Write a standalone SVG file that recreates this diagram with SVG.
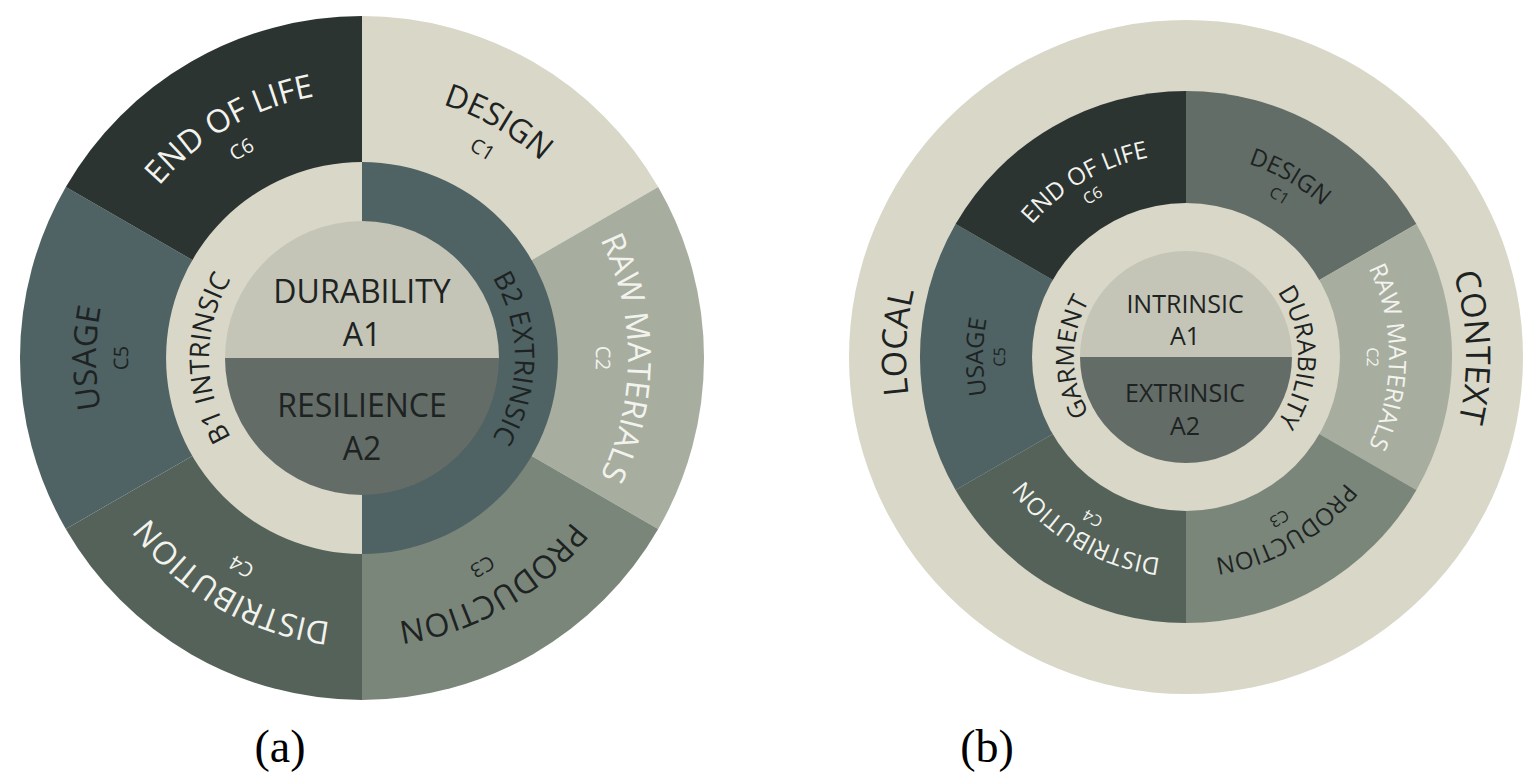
<svg xmlns="http://www.w3.org/2000/svg" width="1528" height="781" viewBox="0 0 1528 781">
<style>
  text { font-family: "Open Sans", "Noto Sans", "DejaVu Sans", sans-serif; text-anchor: middle; }
  .dk { fill: #1d2322; }
  .lt { fill: #f3f3ee; }
  .ma { font-size: 32px; }
  .ca { font-size: 20px; }
  .ba { font-size: 27px; }
  .mb { font-size: 24px; }
  .cb { font-size: 16px; }
  .ob { font-size: 34px; }
  .gb { font-size: 25px; }
  .cap { font-family: "Liberation Serif", "Times New Roman", serif; font-size: 46px; fill: #000; }
  .beige { fill: #d9d7c7; }
  .raw { fill: #a7ad9f; }
  .prod { fill: #7b867b; }
  .dist { fill: #546259; }
  .usage { fill: #4f6264; }
  .eol { fill: #2c3432; }
  .dsgb { fill: #636d68; }
  .coretop { fill: #c4c5b6; }
  .corebot { fill: #646c67; }
</style>
<defs>
  <path id="ra" d="M -261.96 -46.19 A 266 266 0 0 1 261.96 -46.19"/>
  <path id="rca" d="M -230.45 -40.63 A 234 234 0 0 1 230.45 -40.63"/>
  <path id="rba" d="M -150.68 -26.57 A 153 153 0 0 1 150.68 -26.57"/>
  <path id="rb" d="M -199.92 -35.25 A 203 203 0 0 1 199.92 -35.25"/>
  <path id="rcb" d="M -178.25 -31.43 A 181 181 0 0 1 178.25 -31.43"/>
  <path id="rob" d="M -275.75 -48.62 A 280 280 0 0 1 275.75 -48.62"/>
  <path id="rgb" d="M -110.30 -19.45 A 112 112 0 0 1 110.30 -19.45"/>
</defs>

<g id="connectors"></g>

<!-- ===== Diagram (a) ===== -->
<g id="a-design">
  <path class="beige" d="M362,358 L362,16 A342,342 0 0 1 658.2,187 Z"/>
  <text class="ma dk" transform="translate(362 358) rotate(30)"><textPath href="#ra" startOffset="50%">DESIGN</textPath></text>
  <text class="ca dk" transform="translate(362 358) rotate(30)"><textPath href="#rca" startOffset="50%">C1</textPath></text>
</g>
<g id="a-raw-materials">
  <path class="raw" d="M362,358 L658.2,187 A342,342 0 0 1 658.2,529 Z"/>
  <text class="ma lt" transform="translate(362 358) rotate(90)"><textPath href="#ra" startOffset="50%">RAW MATERIALS</textPath></text>
  <text class="ca lt" transform="translate(362 358) rotate(90)"><textPath href="#rca" startOffset="50%">C2</textPath></text>
</g>
<g id="a-production">
  <path class="prod" d="M362,358 L658.2,529 A342,342 0 0 1 362,700 Z"/>
  <text class="ma dk" transform="translate(362 358) rotate(150)"><textPath href="#ra" startOffset="50%">PRODUCTION</textPath></text>
  <text class="ca dk" transform="translate(362 358) rotate(150)"><textPath href="#rca" startOffset="50%">C3</textPath></text>
</g>
<g id="a-distribution">
  <path class="dist" d="M362,358 L362,700 A342,342 0 0 1 65.8,529 Z"/>
  <text class="ma lt" transform="translate(362 358) rotate(210)"><textPath href="#ra" startOffset="50%">DISTRIBUTION</textPath></text>
  <text class="ca lt" transform="translate(362 358) rotate(210)"><textPath href="#rca" startOffset="50%">C4</textPath></text>
</g>
<g id="a-usage">
  <path class="usage" d="M362,358 L65.8,529 A342,342 0 0 1 65.8,187 Z"/>
  <text class="ma dk" transform="translate(362 358) rotate(-90)"><textPath href="#ra" startOffset="50%">USAGE</textPath></text>
  <text class="ca dk" transform="translate(362 358) rotate(-90)"><textPath href="#rca" startOffset="50%">C5</textPath></text>
</g>
<g id="a-end-of-life">
  <path class="eol" d="M362,358 L65.8,187 A342,342 0 0 1 362,16 Z"/>
  <text class="ma lt" transform="translate(362 358) rotate(-30)"><textPath href="#ra" startOffset="50%">END OF LIFE</textPath></text>
  <text class="ca lt" transform="translate(362 358) rotate(-30)"><textPath href="#rca" startOffset="50%">C6</textPath></text>
</g>
<g id="a-b1-intrinsic">
  <path class="beige" d="M362,554 A196,196 0 0 1 362,162 Z"/>
  <text class="ba dk" transform="translate(362 358) rotate(-90)"><textPath href="#rba" startOffset="50%">B1 INTRINSIC</textPath></text>
</g>
<g id="a-b2-extrinsic">
  <path class="usage" d="M362,162 A196,196 0 0 1 362,554 Z"/>
  <text class="ba dk" transform="translate(362 358) rotate(90)"><textPath href="#rba" startOffset="50%">B2 EXTRINSIC</textPath></text>
</g>
<g id="a-a1-durability">
  <path class="coretop" d="M225,358 A137,137 0 0 1 499,358 Z"/>
  <text class="ma dk" x="362" y="303">DURABILITY</text>
  <text class="ma dk" x="362" y="346">A1</text>
</g>
<g id="a-a2-resilience">
  <path class="corebot" d="M499,358 A137,137 0 0 1 225,358 Z"/>
  <text class="ma dk" x="362" y="417">RESILIENCE</text>
  <text class="ma dk" x="362" y="460">A2</text>
</g>
<text class="cap" x="280" y="762">(a)</text>

<!-- ===== Diagram (b) ===== -->
<g id="b-context">
  <circle class="beige" cx="1186" cy="357" r="337"/>
  <text class="ob dk" transform="translate(1186 357) rotate(-87)"><textPath href="#rob" startOffset="50%">LOCAL</textPath></text>
  <text class="ob dk" transform="translate(1186 357) rotate(88)"><textPath href="#rob" startOffset="50%">CONTEXT</textPath></text>
</g>
<g id="b-design">
  <path class="dsgb" d="M1186,357 L1186,91 A266,266 0 0 1 1416.4,224 Z"/>
  <text class="mb dk" transform="translate(1186 357) rotate(30)"><textPath href="#rb" startOffset="50%">DESIGN</textPath></text>
  <text class="cb dk" transform="translate(1186 357) rotate(30)"><textPath href="#rcb" startOffset="50%">C1</textPath></text>
</g>
<g id="b-raw-materials">
  <path class="raw" d="M1186,357 L1416.4,224 A266,266 0 0 1 1416.4,490 Z"/>
  <text class="mb lt" transform="translate(1186 357) rotate(90)"><textPath href="#rb" startOffset="50%">RAW MATERIALS</textPath></text>
  <text class="cb lt" transform="translate(1186 357) rotate(90)"><textPath href="#rcb" startOffset="50%">C2</textPath></text>
</g>
<g id="b-production">
  <path class="prod" d="M1186,357 L1416.4,490 A266,266 0 0 1 1186,623 Z"/>
  <text class="mb dk" transform="translate(1186 357) rotate(150)"><textPath href="#rb" startOffset="50%">PRODUCTION</textPath></text>
  <text class="cb dk" transform="translate(1186 357) rotate(150)"><textPath href="#rcb" startOffset="50%">C3</textPath></text>
</g>
<g id="b-distribution">
  <path class="dist" d="M1186,357 L1186,623 A266,266 0 0 1 955.6,490 Z"/>
  <text class="mb lt" transform="translate(1186 357) rotate(210)"><textPath href="#rb" startOffset="50%">DISTRIBUTION</textPath></text>
  <text class="cb lt" transform="translate(1186 357) rotate(210)"><textPath href="#rcb" startOffset="50%">C4</textPath></text>
</g>
<g id="b-usage">
  <path class="usage" d="M1186,357 L955.6,490 A266,266 0 0 1 955.6,224 Z"/>
  <text class="mb dk" transform="translate(1186 357) rotate(-90)"><textPath href="#rb" startOffset="50%">USAGE</textPath></text>
  <text class="cb dk" transform="translate(1186 357) rotate(-90)"><textPath href="#rcb" startOffset="50%">C5</textPath></text>
</g>
<g id="b-end-of-life">
  <path class="eol" d="M1186,357 L955.6,224 A266,266 0 0 1 1186,91 Z"/>
  <text class="mb lt" transform="translate(1186 357) rotate(-30)"><textPath href="#rb" startOffset="50%">END OF LIFE</textPath></text>
  <text class="cb lt" transform="translate(1186 357) rotate(-30)"><textPath href="#rcb" startOffset="50%">C6</textPath></text>
</g>
<g id="b-garment-durability">
  <circle class="beige" cx="1186" cy="357" r="154"/>
  <text class="gb dk" transform="translate(1186 357) rotate(-90)"><textPath href="#rgb" startOffset="50%">GARMENT</textPath></text>
  <text class="gb dk" transform="translate(1186 357) rotate(90)"><textPath href="#rgb" startOffset="50%">DURABILITY</textPath></text>
</g>
<g id="b-a1-intrinsic">
  <path class="coretop" d="M1080,357 A106,106 0 0 1 1292,357 Z"/>
  <text class="gb dk" x="1185" y="313">INTRINSIC</text>
  <text class="gb dk" x="1185" y="345">A1</text>
</g>
<g id="b-a2-extrinsic">
  <path class="corebot" d="M1292,357 A106,106 0 0 1 1080,357 Z"/>
  <text class="gb dk" x="1185" y="402">EXTRINSIC</text>
  <text class="gb dk" x="1185" y="435">A2</text>
</g>
<text class="cap" x="987" y="762">(b)</text>
</svg>
